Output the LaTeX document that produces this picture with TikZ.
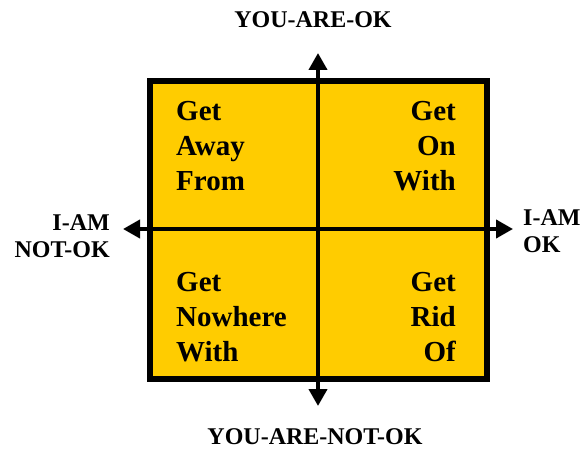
\documentclass[tikz,border=0pt]{standalone}
\usepackage{fontspec}
\setmainfont{Liberation Serif}
\usepackage{tikz}
\usetikzlibrary{positioning,arrows.meta}
\usepackage{xcolor}
\definecolor{okyellow}{RGB}{255,204,0}

\begin{document}
\begin{tikzpicture}[
        x=1pt, y=-1pt,
        grid/.style={draw=black, line width=5.5pt, fill=okyellow},
        axis/.style={{Triangle[width=18pt,length=17pt]}-{Triangle[width=18pt,length=17pt]}, line width=4pt},
        axislabel/.style={font=\fontsize{24}{27.5}\selectfont\bfseries, inner sep=0pt},
        quad/.style={font=\fontsize{29}{35}\selectfont\bfseries, inner sep=0pt}
    ]
        \useasboundingbox (0,0) rectangle (580,449);

        % Square
        \draw[grid] (150,81) rectangle (487,379);

        % Quadrant texts
        \node[quad, anchor=west, align=left] (awayfrom) at (176,146) {Get\\Away\\From};
        \node[quad, anchor=east, align=right] (onwith) at (456,146) {Get\\On\\With};
        \node[quad, anchor=west, align=left] (nowhere) at (176,317) {Get\\Nowhere\\With};
        \node[quad, anchor=east, align=right] (ridof) at (456,317) {Get\\Rid\\Of};

        % Axis ends
        \coordinate (youok) at (318,53);
        \coordinate (younotok) at (318,406);
        \coordinate (inotok) at (123,229);
        \coordinate (iok) at (513,229);

        % Axes
        \draw[axis] (younotok) -- (youok);
        \draw[axis] (inotok) -- (iok);

        % Axis labels
        \node[axislabel] (youoklabel) at (313,20) {YOU-ARE-OK};
        \node[axislabel] (younotoklabel) at (315,437) {YOU-ARE-NOT-OK};
        \node[axislabel, anchor=east, align=right] (inotoklabel) at (110,236) {I-AM\\NOT-OK};
        \node[axislabel, anchor=west, align=left] (ioklabel) at (523,231) {I-AM\\OK};
    \end{tikzpicture}
\end{document}
